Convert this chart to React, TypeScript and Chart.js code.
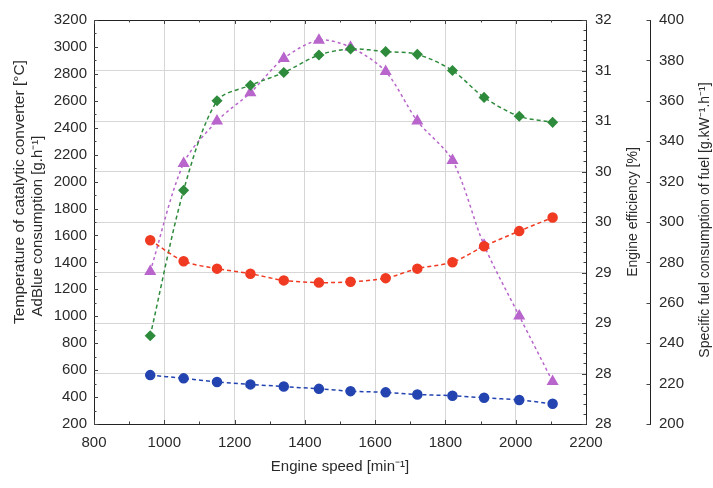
import React, { useEffect, useRef } from 'react';
import { Chart, registerables } from 'chart.js';

Chart.register(...registerables);

// ---- data ----
const engineSpeed = [960, 1055, 1150, 1245, 1340, 1440, 1530, 1630, 1720, 1820, 1910, 2010, 2105];
const adBlueConsumption = [855, 1935, 2600, 2715, 2810, 2940, 2985, 2965, 2945, 2825, 2625, 2485, 2440];
const catalystTemperature = [563, 539, 512, 494, 478, 461, 444, 435, 419, 410, 395, 378, 350];
const engineEfficiency = [29.51, 30.58, 31.0, 31.28, 31.62, 31.8, 31.73, 31.49, 31.0, 30.61, 29.77, 29.07, 28.42];
const specificFuel = [291, 280.6, 276.9, 274.4, 271.1, 270, 270.4, 272.2, 276.9, 280.1, 288, 295.5, 302.2];

const xTickLabels = ['800', '1000', '1200', '1400', '1600', '1800', '2000', '2200'];
const leftTickLabels = ['200', '400', '600', '800', '1000', '1200', '1400', '1600', '1800', '2000', '2200', '2400', '2600', '2800', '3000', '3200'];
const effTickLabels = ['28', '28', '29', '29', '30', '30', '31', '31', '32'];
const sfcTickLabels = ['200', '220', '240', '260', '280', '300', '320', '340', '360', '380', '400'];

const xTitle = 'Engine speed [min\u207B\u00B9]';
const leftTitle = ['Temperature of catalytic converter [\u00B0C]', 'AdBlue consumption [g.h\u207B\u00B9]'];
const effTitle = 'Engine efficiency [%]';
const sfcTitle = 'Specific fuel consumption of fuel [g.kW\u207B\u00B9.h\u207B\u00B9]';

const FONT = '"Liberation Sans", Arial, sans-serif';
const TEXT = '#2a2a2a';
const GRID = '#d6d6d6';

const toPts = (ys: number[]) => ys.map((y, i) => ({ x: engineSpeed[i], y }));

const decorPlugin = {
  id: 'decor',
  beforeDatasetsDraw(chart: any) {
    const { ctx, chartArea, scales } = chart;
    const { left, right, top, bottom } = chartArea;
    ctx.save();
    ctx.strokeStyle = '#222';
    ctx.lineWidth = 1;
    ctx.beginPath();
    ctx.moveTo(left, Math.round(top) + 0.5);
    ctx.lineTo(right, Math.round(top) + 0.5);
    ctx.stroke();
    ctx.strokeStyle = '#444';
    for (let v = 800; v <= 2200; v += 100) {
      const px = Math.round(scales.x.getPixelForValue(v)) + 0.5;
      const len = v % 200 === 0 ? 4 : 2.5;
      ctx.beginPath();
      ctx.moveTo(px, bottom);
      ctx.lineTo(px, bottom - len);
      ctx.moveTo(px, top);
      ctx.lineTo(px, top + len);
      ctx.stroke();
    }
    for (let v = 200; v <= 3200; v += 100) {
      const py = Math.round(scales.yLeft.getPixelForValue(v)) + 0.5;
      const len = v % 200 === 0 ? 4 : 2.5;
      ctx.beginPath();
      ctx.moveTo(left, py);
      ctx.lineTo(left + len, py);
      ctx.stroke();
    }
    for (let i = 0; i <= 40; i++) {
      const py = Math.round(scales.yEff.getPixelForValue(28 + i * 0.1)) + 0.5;
      const len = i % 5 === 0 ? 4 : 2.5;
      ctx.beginPath();
      ctx.moveTo(right, py);
      ctx.lineTo(right - len, py);
      ctx.stroke();
    }
    const sx = Math.round(scales.ySfc.left) + 0.5;
    for (let v = 200; v <= 400; v += 20) {
      const py = Math.round(scales.ySfc.getPixelForValue(v)) + 0.5;
      ctx.beginPath();
      ctx.moveTo(sx, py);
      ctx.lineTo(sx - 4, py);
      ctx.stroke();
    }
    ctx.restore();
  },
  afterDraw(chart: any) {
    const { ctx, scales } = chart;
    const drawV = (text: string, cx: number, cy: number, size: number) => {
      ctx.save();
      ctx.translate(cx, cy);
      ctx.rotate(-Math.PI / 2);
      ctx.font = `${size}px ${FONT}`;
      ctx.textAlign = 'center';
      ctx.textBaseline = 'middle';
      ctx.fillStyle = TEXT;
      ctx.fillText(text, 0, 0);
      ctx.restore();
    };
    const lt = scales.yLeft.options.title.text;
    drawV(lt[0], 20, 192, 15.5);
    drawV(lt[1], 38, 226, 15);
    drawV(scales.yEff.options.title.text, 633, 212, 14);
    drawV(scales.ySfc.options.title.text, 705, 220, 14);
  },
};

export default function App() {
  const ref = useRef<HTMLCanvasElement | null>(null);
  useEffect(() => {
    if (!ref.current) return;
    Chart.defaults.font.family = FONT;
    const tickFont = { family: FONT, size: 15 };
    const chart = new Chart(ref.current, {
      type: 'line',
      data: {
        datasets: [
          {
            label: 'Specific fuel consumption',
            data: toPts(specificFuel),
            yAxisID: 'ySfc',
            borderColor: '#f03a22',
            backgroundColor: '#f03a22',
            pointStyle: 'circle',
            pointRadius: 4.5,
            borderWidth: 1.5,
            borderDash: [4, 3],
            tension: 0.3,
          },
          {
            label: 'Temperature of catalytic converter',
            data: toPts(catalystTemperature),
            yAxisID: 'yLeft',
            borderColor: '#2344b0',
            backgroundColor: '#2344b0',
            pointStyle: 'circle',
            pointRadius: 4.5,
            borderWidth: 1.5,
            borderDash: [4, 3],
            tension: 0.3,
          },
          {
            label: 'AdBlue consumption',
            data: toPts(adBlueConsumption),
            yAxisID: 'yLeft',
            borderColor: '#2e8b3c',
            backgroundColor: '#2e8b3c',
            pointStyle: 'rectRot',
            pointRadius: 4.5,
            borderWidth: 1.5,
            borderDash: [4, 3],
            tension: 0.3,
          },
          {
            label: 'Engine efficiency',
            data: toPts(engineEfficiency),
            yAxisID: 'yEff',
            borderColor: '#b865cc',
            backgroundColor: '#b865cc',
            pointStyle: 'triangle',
            pointRadius: 5.5,
            borderWidth: 1.5,
            borderDash: [3, 3],
            tension: 0.3,
          },
        ],
      },
      options: {
        animation: false,
        responsive: false,
        events: [],
        layout: { padding: { top: 20, left: 0, right: 0, bottom: 0 } },
        plugins: { legend: { display: false }, tooltip: { enabled: false } },
        scales: {
          x: {
            type: 'linear',
            min: 800,
            max: 2200,
            ticks: {
              stepSize: 200,
              autoSkip: false,
              maxRotation: 0,
              padding: 10,
              color: TEXT,
              font: tickFont,
              callback: (_v: any, i: number) => xTickLabels[i],
            },
            grid: { color: GRID, drawTicks: false },
            border: { color: '#222', width: 1 },
            title: { display: true, text: xTitle, color: TEXT, font: { family: FONT, size: 15 }, padding: { top: 0, bottom: 12 } },
            afterFit: (s: any) => { s.height = 64; },
          },
          yLeft: {
            type: 'linear',
            position: 'left',
            min: 200,
            max: 3200,
            ticks: {
              stepSize: 200,
              autoSkip: false,
              padding: 7,
              color: TEXT,
              font: tickFont,
              callback: (_v: any, i: number) => leftTickLabels[i],
            },
            grid: { display: false, drawTicks: false },
            border: { color: '#222', width: 1 },
            title: { display: false, text: leftTitle },
            afterFit: (s: any) => { s.width = 94; },
          },
          yEff: {
            type: 'linear',
            position: 'right',
            min: 28,
            max: 32,
            ticks: {
              stepSize: 0.5,
              autoSkip: false,
              padding: 9,
              color: TEXT,
              font: tickFont,
              callback: (_v: any, i: number) => effTickLabels[i],
            },
            grid: { color: GRID, drawTicks: false },
            border: { color: '#222', width: 1 },
            title: { display: false, text: effTitle },
            afterFit: (s: any) => { s.width = 64; },
          },
          ySfc: {
            type: 'linear',
            position: 'right',
            min: 200,
            max: 400,
            ticks: {
              stepSize: 20,
              autoSkip: false,
              padding: 9,
              color: TEXT,
              font: tickFont,
              callback: (_v: any, i: number) => sfcTickLabels[i],
            },
            grid: { display: false, drawTicks: false },
            border: { display: true, color: '#222', width: 1 },
            title: { display: false, text: sfcTitle },
            afterFit: (s: any) => { s.width = 63; },
          },
        },
      } as any,
      plugins: [decorPlugin],
    });
    return () => chart.destroy();
  }, []);
  return (
    <div style={{ position: 'absolute', left: 0, top: 0, width: 713, height: 488, background: '#fff' }}>
      <canvas ref={ref} width={713} height={488} style={{ display: 'block' }} />
    </div>
  );
}
